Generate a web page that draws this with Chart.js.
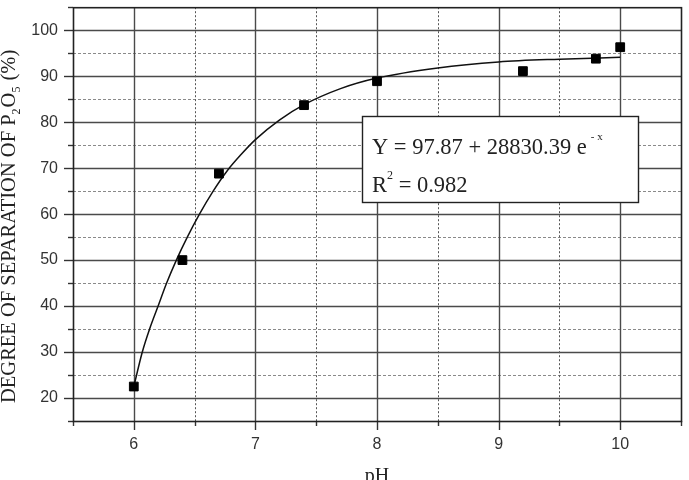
<!DOCTYPE html>
<html lang="en">
<head>
    <meta charset="UTF-8">
    <title>Degree of separation of P2O5 vs pH</title>
    <script src="https://cdn.jsdelivr.net/npm/chart.js"></script>
    <style>
        html, body {
            margin: 0;
            padding: 0;
            width: 689px;
            height: 480px;
            overflow: hidden;
            background: #fff;
        }

        .chart-box {
            position: relative;
            width: 689px;
            height: 495px;
        }
    </style>
</head>
<body>
    <div class="chart-box">
        <canvas id="sepChart"></canvas>
    </div>

    <script>
        // measured points
        const phValues = [6.0, 6.4, 6.7, 7.4, 8.0, 9.2, 9.8, 10.0];
        const separation = [22.5, 50.0, 68.8, 83.7, 88.9, 91.1, 93.8, 96.3];

        // fitted curve
        const fitPh = [6.0, 6.07, 6.13, 6.2, 6.27, 6.35, 6.44, 6.54, 6.65, 6.77, 6.88, 7.0, 7.2, 7.4, 7.7, 8.0, 8.5, 9.0, 9.5, 10.0];
        const fitSeparation = [22.5, 30, 35, 40, 45, 50, 55, 60, 64.9, 69.5, 72.9, 76.2, 80.5, 83.8, 87.3, 89.6, 91.8, 93.1, 93.7, 94.1];

        const xTickLabels = [6, 7, 8, 9, 10];
        const yTickLabels = [20, 30, 40, 50, 60, 70, 80, 90, 100];

        const fitText = ['Y = 97.87 + 28830.39 e', '- x'];
        const r2Text = ['R', '2', ' = 0.982'];

        const serif = '"Liberation Serif", "Times New Roman", serif';

        // grid, tick marks and frame
        const framePlugin = {
            id: 'frame',
            beforeDatasetsDraw(chart) {
                const { ctx, chartArea: a, scales: { x, y } } = chart;
                ctx.save();
                ctx.lineCap = 'butt';

                y.ticks.forEach(t => {
                    const py = Math.round(y.getPixelForValue(t.value)) + 0.5;
                    const major = t.value % 10 === 0;
                    const edge = t.value === y.min || t.value === y.max;
                    if (!edge) {
                        ctx.beginPath();
                        if (major) {
                            ctx.strokeStyle = '#4a4a4a';
                            ctx.lineWidth = 1.4;
                            ctx.setLineDash([]);
                        } else {
                            ctx.strokeStyle = '#8a8a8a';
                            ctx.lineWidth = 1.2;
                            ctx.setLineDash([3, 2]);
                        }
                        ctx.moveTo(a.left, py);
                        ctx.lineTo(a.right, py);
                        ctx.stroke();
                    }
                    ctx.setLineDash([]);
                    ctx.strokeStyle = '#333';
                    ctx.lineWidth = 1.4;
                    ctx.beginPath();
                    ctx.moveTo(a.left - (major ? 9 : 5), py);
                    ctx.lineTo(a.left, py);
                    ctx.stroke();
                });

                x.ticks.forEach(t => {
                    const px = Math.round(x.getPixelForValue(t.value)) + 0.5;
                    const major = Number.isInteger(t.value);
                    const edge = t.value === x.min || t.value === x.max;
                    if (!edge) {
                        ctx.beginPath();
                        if (major) {
                            ctx.strokeStyle = '#4a4a4a';
                            ctx.lineWidth = 1.4;
                            ctx.setLineDash([]);
                        } else {
                            ctx.strokeStyle = '#555';
                            ctx.lineWidth = 1;
                            ctx.setLineDash([2, 2]);
                        }
                        ctx.moveTo(px, a.top);
                        ctx.lineTo(px, a.bottom);
                        ctx.stroke();
                    }
                    ctx.setLineDash([]);
                    ctx.strokeStyle = '#333';
                    ctx.lineWidth = 1.4;
                    ctx.beginPath();
                    ctx.moveTo(px, a.bottom);
                    ctx.lineTo(px, a.bottom + (major ? 9 : 5));
                    ctx.stroke();
                });

                ctx.strokeStyle = '#222';
                ctx.lineWidth = 1.6;
                ctx.strokeRect(a.left + 0.5, a.top + 0.5, a.right - a.left, a.bottom - a.top);
                ctx.restore();
            },
            afterDatasetsDraw(chart) {
                const { ctx } = chart;
                ctx.save();
                // equation box
                ctx.fillStyle = '#fff';
                ctx.fillRect(362, 116, 276, 86);
                ctx.strokeStyle = '#222';
                ctx.lineWidth = 1.4;
                ctx.strokeRect(362.5, 116.5, 276, 86);

                ctx.fillStyle = '#222';
                ctx.textBaseline = 'alphabetic';
                ctx.textAlign = 'left';
                ctx.font = '22.5px ' + serif;
                ctx.fillText(fitText[0], 372, 154);
                let w = ctx.measureText(fitText[0]).width;
                ctx.font = '11px ' + serif;
                ctx.fillText(fitText[1], 372 + w + 4, 140);

                ctx.font = '22.5px ' + serif;
                ctx.fillText(r2Text[0], 372, 192);
                w = ctx.measureText(r2Text[0]).width;
                ctx.font = '12px ' + serif;
                ctx.fillText(r2Text[1], 372 + w, 179);
                const w2 = ctx.measureText(r2Text[1]).width;
                ctx.font = '22.5px ' + serif;
                ctx.fillText(r2Text[2], 372 + w + w2, 192);
                ctx.restore();
            },
            afterDraw(chart) {
                const { ctx, chartArea: a } = chart;
                ctx.save();
                ctx.fillStyle = '#222';
                ctx.textBaseline = 'alphabetic';

                // x title
                ctx.font = '20px ' + serif;
                ctx.textAlign = 'center';
                ctx.fillText('pH', (a.left + a.right) / 2, 482);

                // y title with subscripts
                ctx.translate(15, 403);
                ctx.rotate(-Math.PI / 2);
                ctx.textAlign = 'left';
                const parts = [
                    ['DEGREE OF SEPARATION OF P', false],
                    ['2', true],
                    ['O', false],
                    ['5', true],
                    [' (%)', false]
                ];
                let pos = 0;
                parts.forEach(([txt, sub]) => {
                    ctx.font = (sub ? '12px ' : '20.5px ') + serif;
                    ctx.fillText(txt, pos, sub ? 5 : 0);
                    pos += ctx.measureText(txt).width + (sub ? 1 : 0);
                });
                ctx.restore();
            }
        };

        const ctx = document.getElementById('sepChart').getContext('2d');
        const sepChart = new Chart(ctx, {
            type: 'scatter',
            data: {
                datasets: [{
                    label: 'measured',
                    data: phValues.map((v, i) => ({ x: v, y: separation[i] })),
                    pointStyle: 'rect',
                    pointRadius: 6.2,
                    pointBackgroundColor: '#000',
                    pointBorderColor: '#000',
                    pointBorderWidth: 1,
                    order: 0
                }, {
                    label: 'fit',
                    data: fitPh.map((v, i) => ({ x: v, y: fitSeparation[i] })),
                    showLine: true,
                    pointRadius: 0,
                    borderColor: '#111',
                    borderWidth: 1.5,
                    cubicInterpolationMode: 'monotone',
                    order: 1
                }]
            },
            options: {
                responsive: true,
                maintainAspectRatio: false,
                animation: false,
                layout: { padding: { top: 6, right: 8, left: 0, bottom: 0 } },
                plugins: {
                    legend: { display: false },
                    tooltip: { enabled: false }
                },
                scales: {
                    x: {
                        type: 'linear',
                        min: 5.5,
                        max: 10.5,
                        afterFit: s => {
                            s.height = 74;
                            s.paddingLeft = 0;
                            s.paddingRight = 0;
                        },
                        grid: { drawOnChartArea: false, color: 'transparent', tickLength: 9 },
                        border: { display: false },
                        ticks: {
                            stepSize: 0.5,
                            autoSkip: false,
                            maxRotation: 0,
                            padding: 5,
                            color: '#333',
                            font: { family: '"Liberation Sans", Arial, sans-serif', size: 16 },
                            callback: v => xTickLabels.includes(v) ? String(v) : ''
                        }
                    },
                    y: {
                        min: 15,
                        max: 105,
                        afterFit: s => {
                            s.width = 73;
                            s.paddingTop = 0;
                            s.paddingBottom = 0;
                        },
                        grid: { drawOnChartArea: false, color: 'transparent', tickLength: 9 },
                        border: { display: false },
                        ticks: {
                            stepSize: 5,
                            autoSkip: false,
                            padding: 6,
                            color: '#333',
                            font: { family: '"Liberation Sans", Arial, sans-serif', size: 16 },
                            callback: v => yTickLabels.includes(v) ? String(v) : ''
                        }
                    }
                }
            },
            plugins: [framePlugin]
        });
    </script>
</body>
</html>
